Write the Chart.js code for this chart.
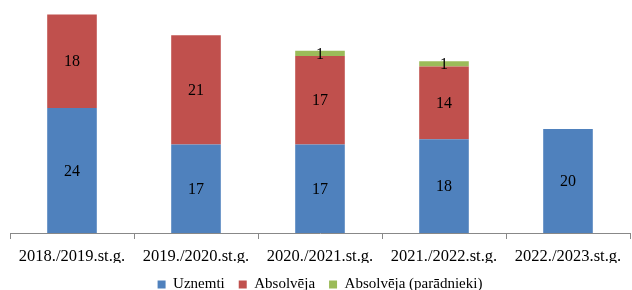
<!DOCTYPE html>
<html>
<head>
<meta charset="utf-8">
<script src="https://cdn.jsdelivr.net/npm/chart.js@4"></script>
<style>
  html, body { margin: 0; padding: 0; background: #fff; }
  #wrap { width: 632px; height: 290px; }
</style>
</head>
<body>
<div id="wrap"><canvas id="studentsChart"></canvas></div>
<script>
const years = ["2018./2019.st.g.", "2019./2020.st.g.", "2020./2021.st.g.", "2021./2022.st.g.", "2022./2023.st.g."];
const admitted = [24, 17, 17, 18, 20];
const graduated = [18, 21, 17, 14, 0];
const graduatedDebtors = [0, 0, 1, 1, 0];

const serif = '"Liberation Serif", "Times New Roman", serif';

// values written in the middle of every segment
const segmentLabels = {
  id: 'segmentLabels',
  afterDatasetsDraw(chart) {
    const ctx = chart.ctx;
    ctx.save();
    ctx.font = '16px ' + serif;
    ctx.fillStyle = '#000';
    ctx.textAlign = 'center';
    ctx.textBaseline = 'middle';
    chart.data.datasets.forEach((ds, i) => {
      const meta = chart.getDatasetMeta(i);
      meta.data.forEach((bar, j) => {
        const v = ds.data[j];
        if (!v) return;
        ctx.fillText(String(v), bar.x, (bar.y + bar.base) / 2 + 1);
      });
    });
    ctx.restore();
  }
};

new Chart(document.getElementById('studentsChart'), {
  type: 'bar',
  data: {
    labels: years,
    datasets: [
      { label: "Uznemti", data: admitted, backgroundColor: "#4F81BD" },
      { label: "Absolvēja", data: graduated, backgroundColor: "#C0504D" },
      { label: "Absolvēja (parādnieki)", data: graduatedDebtors, backgroundColor: "#9BBB59" }
    ]
  },
  options: {
    responsive: true,
    maintainAspectRatio: false,
    animation: false,
    datasets: {
      bar: { barPercentage: 1, categoryPercentage: 0.4 }
    },
    layout: { padding: { left: 10, right: 2, top: 4, bottom: -12 } },
    plugins: {
      tooltip: { enabled: false },
      legend: {
        position: 'bottom',
        labels: {
          boxWidth: 8,
          boxHeight: 8,
          padding: 14,
          color: '#000',
          font: { family: serif, size: 15 }
        }
      }
    },
    scales: {
      x: {
        stacked: true,
        afterFit(scale) { scale.height = 30; },
        grid: { offset: true, drawOnChartArea: false, tickLength: 6, color: '#888' },
        border: { color: '#888' },
        ticks: {
          color: '#000',
          padding: 8,
          font: { family: serif, size: 16.5 }
        }
      },
      y: {
        stacked: true,
        display: false,
        min: 0,
        max: 44
      }
    }
  },
  plugins: [segmentLabels]
});
</script>
</body>
</html>
